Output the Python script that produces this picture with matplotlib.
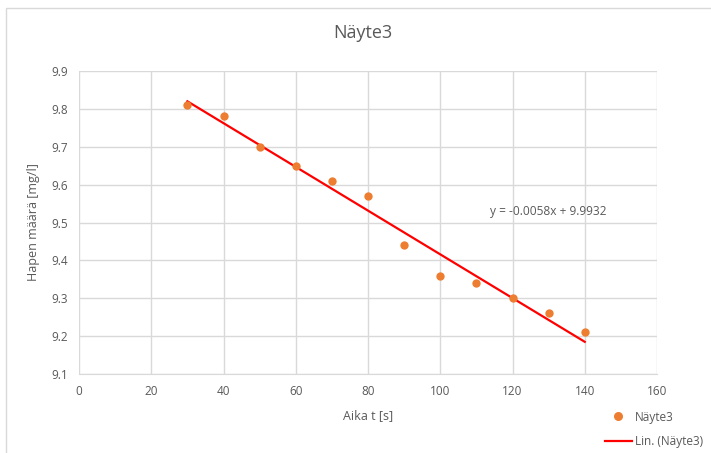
import matplotlib
matplotlib.use("Agg")
import matplotlib.pyplot as plt
import numpy as np
from matplotlib.patches import Rectangle
from matplotlib.lines import Line2D

plt.rcParams['font.family'] = ['Open Sans', 'DejaVu Sans']

title = "Näyte3"
x_label = "Aika t [s]"
y_label = "Hapen määrä [mg/l]"
series_name = "Näyte3"
trend_name = "Lin. (Näyte3)"
time_s = [30, 40, 50, 60, 70, 80, 90, 100, 110, 120, 130, 140]
oxygen = [9.81, 9.78, 9.70, 9.65, 9.61, 9.57, 9.44, 9.36, 9.34, 9.30, 9.26, 9.21]
x_ticks = [0, 20, 40, 60, 80, 100, 120, 140, 160]
y_ticks = [9.1, 9.2, 9.3, 9.4, 9.5, 9.6, 9.7, 9.8, 9.9]
equation = "y = -0.0058x + 9.9932"

W, H = 711, 453
fig = plt.figure(figsize=(W/100, H/100), dpi=100)
fig.patches.append(Rectangle((6/W, -0.01), 1.0, 1 - 8/H + 0.01, transform=fig.transFigure,
                             fill=False, edgecolor='#d9d9d9', linewidth=1.0))
ax = fig.add_axes([79/W, 1 - 374/H, (657-79)/W, (374-71)/H])

grey = '#595959'
ax.set_xlim(0, 160)
ax.set_ylim(9.1, 9.9)
ax.set_xticks(x_ticks)
ax.set_yticks(y_ticks)
ax.set_yticklabels([f"{v:.1f}" for v in y_ticks])
ax.grid(True, color='#d9d9d9', linewidth=1.0)
ax.set_axisbelow(True)
for s in ax.spines.values():
    s.set_visible(False)
ax.spines['bottom'].set_visible(True)
ax.spines['bottom'].set_color('#d9d9d9')
ax.tick_params(length=0, colors=grey, labelsize=8.5, pad=8)

xs = np.array(time_s, dtype=float)
ys = np.array(oxygen)
m, b = np.polyfit(xs, ys, 1)
xl = np.array([xs.min(), xs.max()])
ax.plot(xl, m*xl + b, color='#ff0000', linewidth=1.6, zorder=3)
ax.scatter(xs, ys, s=36, color='#ed7d31', zorder=4, linewidths=0)

ax.text(113.8, 9.53, equation, color=grey, fontsize=8.6, va='center', ha='left')

ax.set_xlabel(x_label, color=grey, fontsize=9, labelpad=8)
ax.set_ylabel(y_label, color=grey, fontsize=9, labelpad=8)
fig.text(363/W, 1 - 33/H, title, ha='center', va='center', fontsize=13, color=grey)

handles = [Line2D([], [], marker='o', linestyle='none', color='#ed7d31', markersize=6.5, markeredgewidth=0),
           Line2D([], [], color='#ff0000', linewidth=1.6)]
fig.legend(handles, [series_name, trend_name], loc='upper left',
           bbox_to_anchor=(594/W, 1 - 400/H), frameon=False, fontsize=8.5,
           labelcolor=grey, handlelength=2.3, labelspacing=1.0, handletextpad=0.3)

fig.savefig("out.png", dpi=100)
